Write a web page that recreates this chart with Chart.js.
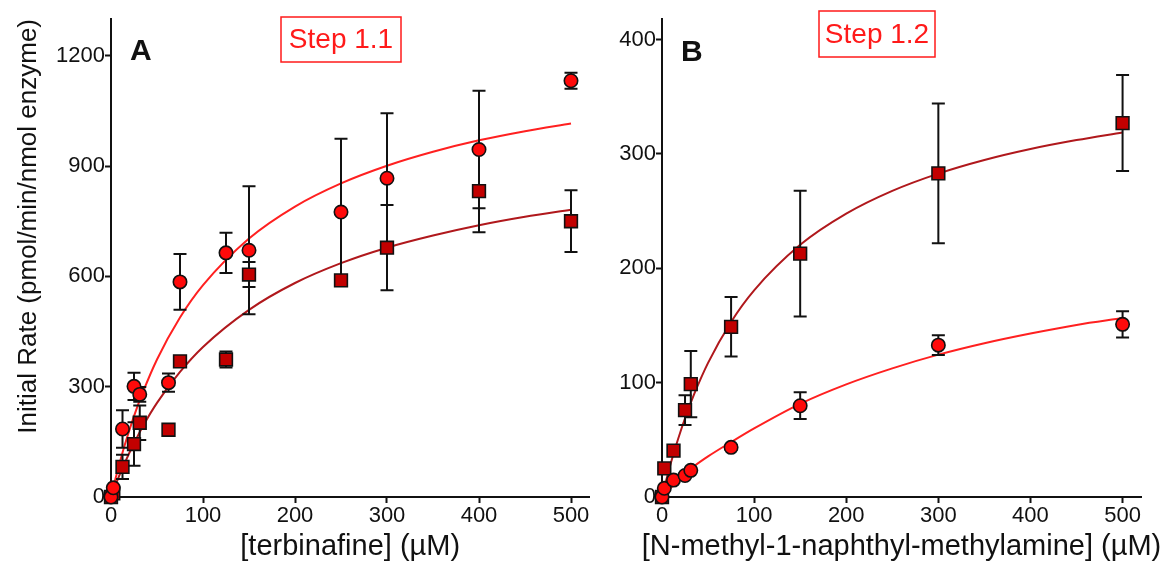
<!DOCTYPE html>
<html>
<head>
<meta charset="utf-8">
<script src="https://cdn.jsdelivr.net/npm/chart.js@4.4.0/dist/chart.umd.min.js"></script>
<style>
  body { margin: 0; background: #fff; width: 1167px; height: 574px; overflow: hidden; position: relative; }
  canvas { position: absolute; top: 0; }
  #chartA { left: 0; }
  #chartB { left: 600px; }
</style>
</head>
<body>
<canvas id="chartA" width="600" height="574"></canvas>
<canvas id="chartB" width="567" height="574"></canvas>
<script>
const FONT = '"Liberation Sans", Arial, Helvetica, sans-serif';

const xTicks = [0, 100, 200, 300, 400, 500];
const yTicksA = [0, 300, 600, 900, 1200];
const yTicksB = [0, 100, 200, 300, 400];

// Panel A - terbinafine
const concA = [0, 2.5, 12.5, 25, 31.25, 62.5, 75, 125, 150, 250, 300, 400, 500];
const circlesA = [0, 25, 185, 301, 279, 311, 585, 664, 671, 775, 867, 945, 1132];
const circlesAErr = [0, 0, 51, 37, 20, 25, 76, 55, 174, 199, 177, 160, 22];
const squaresA = [0, 10, 82, 144, 202, 183, 369, 374, 605, 589, 678, 832, 750];
const squaresAErr = [0, 0, 33, 59, 47, 0, 8, 22, 34, 0, 116, 112, 84];
const fitXA = [0, 2.5, 5, 10, 15, 25, 35, 50, 75, 100, 150, 200, 250, 300, 350, 400, 450, 500];
const fitCirclesA = [0, 26, 51, 98, 142, 220, 287, 374, 488, 576, 703, 790, 853, 901, 939, 970, 995, 1016];
const fitSquaresA = [0, 17, 33, 64, 93, 146, 194, 256, 340, 408, 509, 582, 636, 678, 711, 739, 762, 781];

// Panel B - N-methyl-1-naphthyl-methylamine
const concB = [0, 2.5, 12.5, 25, 31.25, 75, 150, 300, 500];
const squaresB = [0, 25, 40.5, 76, 98.7, 148.8, 212.8, 283, 327];
const squaresBErr = [0, 0, 4, 13, 29, 26, 55, 61, 42];
const circlesB = [0, 7.6, 14.8, 18.8, 23.3, 43.4, 79.8, 132.8, 151];
const circlesBErr = [0, 0, 0, 0, 0, 2, 11.7, 8.7, 11.5];
const fitXB = [0, 2.5, 5, 10, 15, 25, 35, 50, 75, 100, 150, 200, 250, 300, 350, 400, 450, 500];
const fitSquaresB = [0, 8.2, 16, 30.8, 44.4, 68.9, 90.1, 117.3, 153.1, 180.7, 220.5, 247.8, 267.7, 282.8, 294.7, 304.3, 312.1, 318.8];
const fitCirclesB = [0, 2.1, 4.2, 8.4, 12.5, 20, 27, 35.5, 48, 60, 81.5, 98.5, 112.5, 124.5, 134.5, 143, 150.5, 156.5];

function pts(xs, ys) {
  return xs.map((x, i) => ({ x: x, y: ys[i] }));
}

// error bars are drawn just before the first marker set, so markers sit on top
const errorBars = {
  id: 'errorBars',
  beforeDatasetDraw(chart, args) {
    if (chart.data.datasets[args.index].role !== 'squares') return;
    const ctx = chart.ctx;
    const xs = chart.scales.x, ys = chart.scales.y;
    ctx.save();
    ctx.strokeStyle = '#111';
    ctx.lineWidth = 2;
    chart.data.datasets.forEach(ds => {
      if (!ds.errors) return;
      ds.data.forEach((p, i) => {
        const e = ds.errors[i];
        if (!e) return;
        const px = xs.getPixelForValue(p.x);
        const top = ys.getPixelForValue(p.y + e);
        const bot = ys.getPixelForValue(p.y - e);
        ctx.beginPath();
        ctx.moveTo(px, top); ctx.lineTo(px, bot);
        ctx.moveTo(px - 6.5, top); ctx.lineTo(px + 6.5, top);
        ctx.moveTo(px - 6.5, bot); ctx.lineTo(px + 6.5, bot);
        ctx.stroke();
      });
    });
    ctx.restore();
  }
};

// panel letter, red "Step" box, and the x title (drawn here so it may run wider than the axis)
const panelText = {
  id: 'panelText',
  afterDraw(chart, args, o) {
    const ctx = chart.ctx;
    const area = chart.chartArea;
    ctx.save();
    ctx.fillStyle = '#111';
    ctx.font = 'bold 30px ' + FONT;
    ctx.textAlign = 'left';
    ctx.textBaseline = 'alphabetic';
    ctx.fillText(o.letter, o.lx, o.ly);

    ctx.font = '29px ' + FONT;
    ctx.textAlign = 'center';
    ctx.textBaseline = 'middle';
    ctx.fillText(o.xTitle, (area.left + area.right) / 2, chart.height - 27);

    ctx.strokeStyle = '#ff1a1a';
    ctx.lineWidth = 1.5;
    ctx.strokeRect(o.bx, o.by, o.bw, o.bh);
    ctx.fillStyle = '#ff1a1a';
    ctx.font = '28px ' + FONT;
    ctx.textBaseline = 'alphabetic';
    ctx.fillText(o.step, o.bx + o.bw / 2, o.ty);
    ctx.restore();
  }
};

function makeChart(id, c) {
  return new Chart(document.getElementById(id), {
    type: 'scatter',
    data: {
      datasets: [
        { data: pts(c.fitX, c.fitC), showLine: true, borderColor: '#ff2020', borderWidth: 2,
          pointRadius: 0, cubicInterpolationMode: 'monotone', order: 3, clip: false },
        { data: pts(c.fitX, c.fitS), showLine: true, borderColor: '#b0181c', borderWidth: 2,
          pointRadius: 0, cubicInterpolationMode: 'monotone', order: 3, clip: false },
        { role: 'squares', data: pts(c.conc, c.sq), errors: c.sqErr, pointStyle: 'rect', pointRadius: 9,
          backgroundColor: '#c20000', borderColor: '#111', borderWidth: 1.6, order: 2, clip: false },
        { role: 'circles', data: pts(c.conc, c.ci), errors: c.ciErr, pointStyle: 'circle', pointRadius: 6.7,
          backgroundColor: '#ff0a0a', borderColor: '#111', borderWidth: 1.6, order: 1, clip: false }
      ]
    },
    options: {
      responsive: false,
      animation: false,
      events: [],
      layout: { padding: { top: 19, right: c.padRight, left: 0, bottom: 0 } },
      plugins: { legend: { display: false }, tooltip: { enabled: false }, panelText: c.text },
      scales: {
        x: {
          type: 'linear', min: 0, max: 520,
          afterBuildTicks: s => { s.ticks = xTicks.map(v => ({ value: v })); },
          afterFit: s => { s.height = 77; },
          border: { color: '#111', width: 2 },
          grid: { drawOnChartArea: false, drawTicks: true, tickLength: 6, tickColor: '#111', tickWidth: 2 },
          ticks: { font: { size: 22, family: FONT }, color: '#111', padding: 0, maxRotation: 0,
                   callback: v => String(v) },
          title: { display: false }
        },
        y: {
          type: 'linear', min: 0, max: c.yMax,
          afterBuildTicks: s => { s.ticks = c.yTicks.map(v => ({ value: v })); },
          afterFit: s => { s.width = c.yWidth; },
          border: { color: '#111', width: 2 },
          grid: { drawOnChartArea: false, drawTicks: true, tickLength: 6, tickColor: '#111', tickWidth: 2 },
          ticks: { font: { size: 22, family: FONT }, color: '#111', padding: 0, callback: v => String(v) },
          title: { display: c.yTitle !== '', text: c.yTitle, align: 'end', color: '#111',
                   font: { size: 26, family: FONT }, padding: { top: 13, bottom: 0 } }
        }
      }
    },
    plugins: [errorBars, panelText]
  });
}

makeChart('chartA', {
  conc: concA, ci: circlesA, ciErr: circlesAErr, sq: squaresA, sqErr: squaresAErr,
  fitX: fitXA, fitC: fitCirclesA, fitS: fitSquaresA,
  yTicks: yTicksA, yMax: 1300, yWidth: 111, padRight: 10,
  yTitle: 'Initial Rate (pmol/min/nmol enzyme)',
  text: { letter: 'A', lx: 130, ly: 60, xTitle: '[terbinafine] (µM)',
          step: 'Step 1.1', bx: 281, by: 17, bw: 120, bh: 45, ty: 48 }
});

makeChart('chartB', {
  conc: concB, ci: circlesB, ciErr: circlesBErr, sq: squaresB, sqErr: squaresBErr,
  fitX: fitXB, fitC: fitCirclesB, fitS: fitSquaresB,
  yTicks: yTicksB, yMax: 418, yWidth: 62, padRight: 26,
  yTitle: '',
  text: { letter: 'B', lx: 81, ly: 61, xTitle: '[N-methyl-1-naphthyl-methylamine] (µM)',
          step: 'Step 1.2', bx: 219, by: 11, bw: 116, bh: 46, ty: 43 }
});
</script>
</body>
</html>
